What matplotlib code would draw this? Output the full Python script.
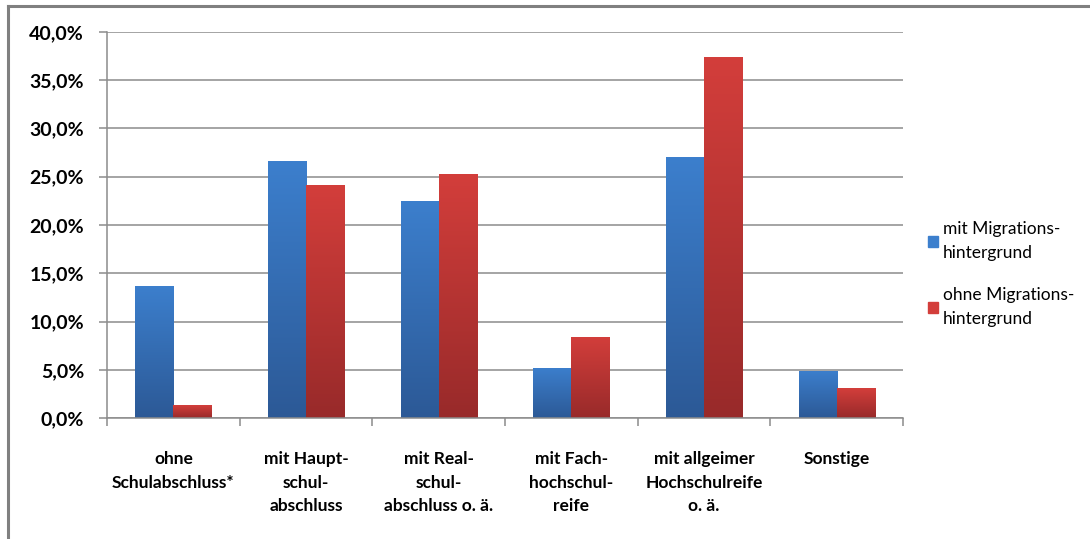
#!/usr/bin/env python3
import numpy as np
import matplotlib
matplotlib.use('Agg')
import matplotlib.pyplot as plt
from matplotlib.colors import LinearSegmentedColormap
from matplotlib.ticker import FuncFormatter, MultipleLocator
from matplotlib.lines import Line2D

plt.rcParams['font.family'] = ['Lato', 'DejaVu Sans']

categories = ['ohne\nSchulabschluss*', 'mit Haupt-\nschul-\nabschluss',
              'mit Real-\nschul-\nabschluss o. ä.', 'mit Fach-\nhochschul-\nreife',
              'mit allgeimer\nHochschulreife\no. ä.', 'Sonstige']
mit_migration = [13.7, 26.6, 22.5, 5.2, 27.0, 4.9]
ohne_migration = [1.3, 24.1, 25.3, 8.4, 37.4, 3.1]
series_labels = ['mit Migrations-\nhintergrund', 'ohne Migrations-\nhintergrund']

# top -> bottom gradient colours of each series
blue_grad = ['#3c7fcd', '#2c5996']
red_grad = ['#d33e3b', '#982a2a']

GRID = '#8c8c8c'

fig = plt.figure(figsize=(10.9, 5.39), dpi=100)
ax = fig.add_axes([107/1090, 1-418/539, (903-107)/1090, (418-32)/539])

x = np.arange(len(categories))
w = 0.287
b1 = ax.bar(x - w/2, mit_migration, w, color=blue_grad[0], label=series_labels[0], zorder=3)
b2 = ax.bar(x + w/2, ohne_migration, w, color=red_grad[0], label=series_labels[1], zorder=3)


def fill_gradient(bars, cols):
    cmap = LinearSegmentedColormap.from_list('g', cols[::-1])
    grad = np.linspace(0, 1, 256).reshape(-1, 1)
    for p in bars:
        x0, y0 = p.get_x(), p.get_y()
        im = ax.imshow(grad, cmap=cmap, origin='lower', aspect='auto',
                       extent=(x0, x0 + p.get_width(), y0, y0 + p.get_height()),
                       zorder=3.5, interpolation='bilinear')
        im.set_clip_path(p)


fill_gradient(b1, blue_grad)
fill_gradient(b2, red_grad)

ax.set_xlim(-0.5, len(categories) - 0.5)
ax.set_ylim(0, 40)
ax.yaxis.set_major_locator(MultipleLocator(5))
ax.yaxis.set_major_formatter(FuncFormatter(lambda v, _: f'{v:.1f}'.replace('.', ',') + '%'))
ax.grid(axis='y', color=GRID, linewidth=1.1, zorder=0)

for s in ['top', 'right']:
    ax.spines[s].set_visible(False)
for s in ['left', 'bottom']:
    ax.spines[s].set_color(GRID)
    ax.spines[s].set_linewidth(1.1)
ax.spines['bottom'].set_zorder(4)

ax.tick_params(axis='y', length=6, width=1.1, color=GRID, labelsize=14, pad=10.5)
for t in ax.get_yticklabels():
    t.set_fontweight('bold')

# category labels between boundary ticks
ax.set_xticks(np.arange(len(categories) + 1) - 0.5)
ax.set_xticklabels([])
ax.tick_params(axis='x', length=6, width=1.1, color=GRID)
for xi, lab in zip(x, categories):
    ax.text(xi, -3.4, lab, ha='center', va='top', fontsize=12.5, fontweight='bold',
            linespacing=1.6, transform=ax.transData, clip_on=False)

handles = [plt.Rectangle((0, 0), 1, 1, color=blue_grad[0]),
           plt.Rectangle((0, 0), 1, 1, color=red_grad[0])]
leg = fig.legend(handles, series_labels, loc='center left', bbox_to_anchor=(912/1090, 1-274/539),
                 frameon=False, fontsize=12.5, handlelength=0.6, handleheight=0.6,
                 handletextpad=0.3, labelspacing=1.5)
for t in leg.get_texts():
    t.set_linespacing(1.65)

# outer frame of the chart
fig.add_artist(Line2D([8/1090, 1], [1-6/539, 1-6/539], color='#808080', lw=2.2, transform=fig.transFigure))
fig.add_artist(Line2D([8/1090, 8/1090], [0, 1-6/539], color='#808080', lw=2.2, transform=fig.transFigure))

fig.savefig('out.png', dpi=100)
